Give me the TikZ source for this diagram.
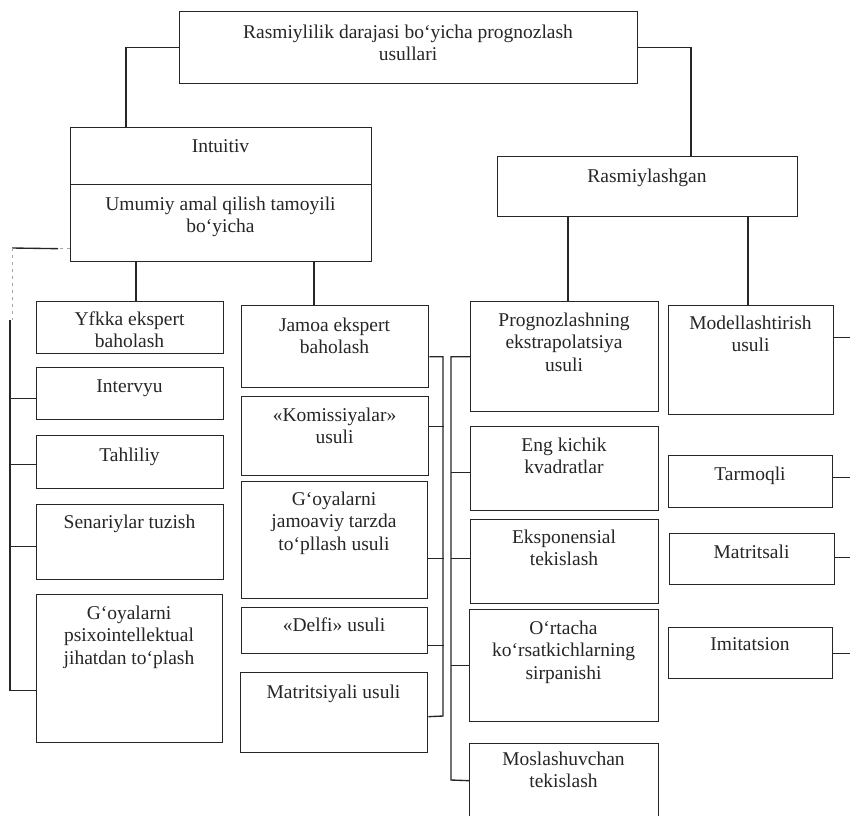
\documentclass[tikz,border=0pt]{standalone}
\usepackage{fontspec}
\setmainfont{Liberation Serif}
\tikzset{
  box/.style={draw=black!85, line width=1.35pt, inner sep=0pt},
  bx/.style n args={4}{minimum width={(#3-#1)*1pt}, minimum height={(#4-#2)*1pt}, anchor=north west, at={(#1,#2)}},
  txt/.style={font=\fontsize{19.5}{22.5}\selectfont, align=center, inner sep=0pt, anchor=north, text=black!85},
  conn/.style={draw=black!85, line width=1.35pt},
  faint/.style={draw=black!35, line width=0.9pt, dash pattern=on 3pt off 4pt},
}
\begin{document}
\begin{tikzpicture}[x=1pt,y=-1pt]
\useasboundingbox (0,0) rectangle (850,815);
\fill[white] (0,0) rectangle (850,815);
\clip (0,0) rectangle (850,815);

% ---------- boxes ----------
\node[box, bx={179}{11}{637}{83}] (top) {};
\node[box, bx={70}{127}{371}{184}] (intA) {};
\node[box, bx={70}{184}{371}{261}] (intB) {};
\node[box, bx={497}{156}{797}{216}] (rasm) {};

\node[box, bx={36}{301}{223}{353}] (yfkka) {};
\node[box, bx={36}{367}{223}{419}] (interv) {};
\node[box, bx={36}{435}{223}{488}] (tahl) {};
\node[box, bx={36}{504}{223}{579}] (sen) {};
\node[box, bx={36}{594}{222}{742}] (goy1) {};

\node[box, bx={241}{305}{428}{387}] (jam) {};
\node[box, bx={241}{396}{428}{475}] (kom) {};
\node[box, bx={241}{481}{427}{598}] (goy2) {};
\node[box, bx={241}{607}{427}{653}] (delfi) {};
\node[box, bx={240}{672}{427}{752}] (mat) {};

\node[box, bx={470}{301}{658}{411}] (prog) {};
\node[box, bx={470}{426}{658}{510}] (eng) {};
\node[box, bx={470}{519}{658}{603}] (eksp) {};
\node[box, bx={469}{609}{658}{721}] (ort) {};
\node[box, bx={469}{743}{658}{817}] (mos) {};

\node[box, bx={668}{305}{833}{414}] (mod) {};
\node[box, bx={668}{455}{832}{507}] (tarm) {};
\node[box, bx={669}{533}{834}{584}] (matr) {};
\node[box, bx={668}{627}{832}{678}] (imit) {};

% ---------- texts ----------
\node[txt] (top-t) at (408,24.5) {Rasmiylilik darajasi bo‘yicha prognozlash\\usullari};
\node[txt] (intA-t) at (220.5,139.5) {Intuitiv};
\node[txt] (intB-t) at (220.5,196.5) {Umumiy amal qilish tamoyili\\bo‘yicha};
\node[txt] (rasm-t) at (647,168.5) {Rasmiylashgan};

\node[txt] (yfkka-t) at (129.5,311.5) {Yfkka ekspert\\baholash};
\node[txt] (interv-t) at (129.5,379.5) {Intervyu};
\node[txt] (tahl-t) at (129.5,447.5) {Tahliliy};
\node[txt] (sen-t) at (129.5,514.5) {Senariylar tuzish};
\node[txt] (goy1-t) at (129,605.5) {G‘oyalarni\\psixointellektual\\jihatdan to‘plash};

\node[txt] (jam-t) at (334.5,317.5) {Jamoa ekspert\\baholash};
\node[txt] (kom-t) at (334.5,407.5) {«Komissiyalar»\\usuli};
\node[txt] (goy2-t) at (334,491.5) {G‘oyalarni\\jamoaviy tarzda\\to‘pllash usuli};
\node[txt] (delfi-t) at (334,617.5) {«Delfi» usuli};
\node[txt] (mat-t) at (333.5,684.5) {Matritsiyali usuli};

\node[txt] (prog-t) at (564,312.5) {Prognozlashning\\ekstrapolatsiya\\usuli};
\node[txt] (eng-t) at (564,437.5) {Eng kichik\\kvadratlar};
\node[txt] (eksp-t) at (564,529.5) {Eksponensial\\tekislash};
\node[txt] (ort-t) at (563.5,620.5) {O‘rtacha\\ko‘rsatkichlarning\\sirpanishi};
\node[txt] (mos-t) at (563.5,751.5) {Moslashuvchan\\tekislash};

\node[txt] (mod-t) at (750.5,315.5) {Modellashtirish\\usuli};
\node[txt] (tarm-t) at (750,466.5) {Tarmoqli};
\node[txt] (matr-t) at (751.5,544.5) {Matritsali};
\node[txt] (imit-t) at (750,637.5) {Imitatsion};

% ---------- connectors ----------
\draw[conn] (top.west) -| ([xshift=56pt]intA.north west);
\draw[conn] (top.east) -| ([xshift=194pt]rasm.north west);

\coordinate (c1) at ([xshift=66pt]intB.south west);
\coordinate (c2) at ([xshift=244pt]intB.south west);
\draw[conn] (c1) -- (c1 |- yfkka.north);
\draw[conn] (c2) -- (c2 |- jam.north);
\coordinate (c3) at ([xshift=71pt]rasm.south west);
\coordinate (c4) at ([xshift=251pt]rasm.south west);
\draw[conn] (c3) -- (c3 |- prog.north);
\draw[conn] (c4) -- (c4 |- mod.north);

% left bracket (Intuitiv -> individual methods)
\coordinate (s0) at ([yshift=-25.5pt]intB.west);
\coordinate (s1) at ([xshift=-12pt]s0);
\coordinate (lb) at (12,248);
\coordinate (lb2) at (10,320);
\draw[conn] (s1) -- (lb);
\draw[faint] (s0) -- (s1);
\draw[faint] (lb) -- (lb |- lb2);
\draw[conn] (lb2) |- ([yshift=-22pt]goy1.west);
\draw[conn] ([yshift=-5pt]interv.west) -- +(-26,0);
\draw[conn] ([yshift=-2.5pt]tahl.west) -- +(-26,0);
\draw[conn] ([yshift=-4.5pt]sen.west) -- +(-26,0);

% middle bracket (group expert methods)
\coordinate (mb) at (443,716);
\draw[conn] ([yshift=-10pt]jam.east) -| (mb) -- ([yshift=-4pt]mat.east);
\draw[conn] ([yshift=9.5pt]kom.east) -- +(15,0);
\draw[conn] ([yshift=-18.5pt]goy2.east) -- +(16,0);
\draw[conn] ([yshift=-15pt]delfi.east) -- +(16,0);

% extrapolation bracket
\coordinate (eb) at (451,780);
\draw[conn] (prog.west) -| (eb) -- (mos.west);
\draw[conn] ([yshift=-4pt]eng.west) -- +(-19,0);
\draw[conn] ([yshift=3pt]eksp.west) -- +(-19,0);
\draw[conn] (ort.west) -- +(-18,0);

% right ticks (modelling methods)
\draw[conn] ([yshift=22.5pt]mod.east) -- +(20,0);
\draw[conn] ([yshift=4pt]tarm.east) -- +(20,0);
\draw[conn] ([yshift=1.5pt]matr.east) -- +(20,0);
\draw[conn] (imit.east) -- +(20,0);
\end{tikzpicture}
\end{document}
